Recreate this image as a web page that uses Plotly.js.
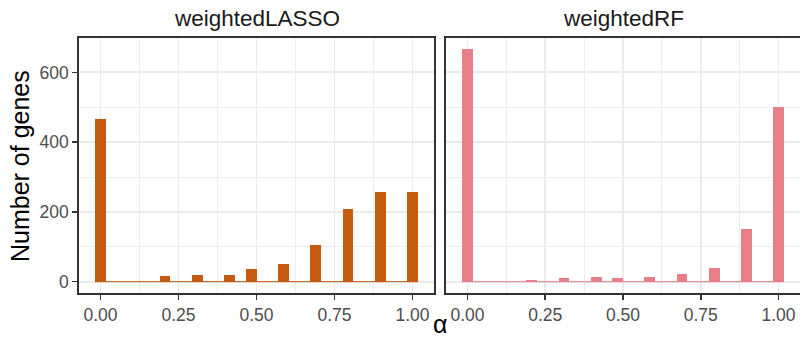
<!DOCTYPE html>
<html>
<head>
<meta charset="utf-8">
<script src="https://cdn.plot.ly/plotly-3.0.1.min.js"></script>
<style>html,body{margin:0;padding:0;background:#fff}#chart{width:800px;height:340px}</style>
</head>
<body>
<div id="chart"></div>
<script>
// Bin centres of the alpha histogram (30 bins)
const alphaBins = [0, 0.0345, 0.069, 0.1034, 0.1379, 0.1724, 0.2069, 0.2414, 0.2759, 0.3103,
  0.3448, 0.3793, 0.4138, 0.4483, 0.4828, 0.5172, 0.5517, 0.5862, 0.6207, 0.6552,
  0.6897, 0.7241, 0.7586, 0.7931, 0.8276, 0.8621, 0.8966, 0.931, 0.9655, 1];
const binWidth = 0.0345;
const panels = ["weightedLASSO", "weightedRF"];
const countsLASSO = [466, 0, 0, 0, 0, 0, 16, 0, 0, 19,
  0, 0, 19, 0, 36, 0, 0, 51, 0, 0,
  105, 0, 0, 208, 0, 0, 257, 0, 0, 257];
const countsRF = [666, 0, 0, 0, 0, 0, 5, 0, 0, 10,
  0, 0, 13, 0, 10, 0, 0, 13, 0, 0,
  22, 0, 0, 39, 0, 0, 151, 0, 0, 500];
const xTickVals = [0, 0.25, 0.5, 0.75, 1];
const xTickText = ["0.00", "0.25", "0.50", "0.75", "1.00"];
const yTickVals = [0, 200, 400, 600];
const colors = ["#C55A11", "#E77F88"];

const edges = [alphaBins[0] - binWidth / 2, alphaBins[alphaBins.length - 1] + binWidth / 2];
const xr = [edges[0] - 0.05 * (edges[1] - edges[0]), edges[1] + 0.05 * (edges[1] - edges[0])];
const ymax = Math.max(...countsLASSO, ...countsRF);
const yr = [-0.05 * ymax, ymax * 1.05];

function bars(y, col, xa, ya) {
  return [{
    type: "bar", x: alphaBins, y: y, width: binWidth, xaxis: xa, yaxis: ya,
    marker: {color: col, line: {width: 0}}, hoverinfo: "x+y", showlegend: false
  }, {
    type: "scatter", mode: "lines", x: edges, y: [0, 0], xaxis: xa, yaxis: ya,
    line: {color: col, width: 1}, hoverinfo: "skip", showlegend: false
  }];
}

const data = [].concat(bars(countsLASSO, colors[0], "x", "y"), bars(countsRF, colors[1], "x2", "y2"));

const gridMajor = "#EBEBEB", gridMinor = "#EBEBEB";
const font = "Liberation Sans, Arial, sans-serif";
function xaxis(dom, anchor) {
  return {
    domain: dom, anchor: anchor, range: xr, tickmode: "array", tickvals: xTickVals, ticktext: xTickText,
    ticks: "outside", ticklen: 5, tickwidth: 1.6, tickcolor: "#333333",
    tickfont: {family: font, size: 17.5, color: "#4D4D4D"},
    showgrid: true, gridcolor: gridMajor, gridwidth: 1.8, zeroline: false,
    showline: true, mirror: true, linecolor: "#333333", linewidth: 1.8,
    minor: {tick0: 0.125, dtick: 0.25, showgrid: true, gridcolor: gridMinor, gridwidth: 0.9, ticks: ""},
    fixedrange: true
  };
}
function yaxis(show, anchor) {
  return {
    domain: [0.1374, 0.889], range: yr, anchor: anchor, tickmode: "array", tickvals: yTickVals,
    ticks: show ? "outside" : "", ticklen: 5, tickwidth: 1.6, tickcolor: "#333333",
    showticklabels: show,
    tickfont: {family: font, size: 17.5, color: "#4D4D4D"},
    showgrid: true, gridcolor: gridMajor, gridwidth: 1.8, zeroline: false,
    showline: true, mirror: true, linecolor: "#333333", linewidth: 1.8,
    minor: {tick0: 100, dtick: 200, showgrid: true, gridcolor: gridMinor, gridwidth: 0.9, ticks: ""},
    fixedrange: true
  };
}

const layout = {
  width: 800, height: 340,
  margin: {l: 0, r: 0, t: 0, b: 0},
  paper_bgcolor: "#fff", plot_bgcolor: "#fff",
  bargap: 0,
  xaxis: xaxis([79 / 800, 434 / 800], "y"),
  xaxis2: xaxis([446 / 800, 1], "y2"),
  yaxis: yaxis(true, "x"),
  yaxis2: yaxis(false, "x2"),
  annotations: [
    {text: panels[0], xref: "paper", yref: "paper", x: (79 + 434) / 1600, y: 1 - 18 / 340,
     xanchor: "center", yanchor: "middle", showarrow: false, font: {family: font, size: 22.5, color: "#1A1A1A"}},
    {text: panels[1], xref: "paper", yref: "paper", x: (446 + 800) / 1600, y: 1 - 18 / 340,
     xanchor: "center", yanchor: "middle", showarrow: false, font: {family: font, size: 22.5, color: "#1A1A1A"}},
    {text: "Number of genes", xref: "paper", yref: "paper", x: 20 / 800, y: 1 - 166 / 340,
     xanchor: "center", yanchor: "middle", textangle: -90, showarrow: false, font: {family: font, size: 25, color: "#000"}},
    {text: "α", xref: "paper", yref: "paper", x: 440 / 800, y: 0,
     xanchor: "center", yanchor: "bottom", showarrow: false, font: {family: font, size: 25, color: "#000"}}
  ]
};

Plotly.newPlot("chart", data, layout, {staticPlot: true, displayModeBar: false});
</script>
</body>
</html>
